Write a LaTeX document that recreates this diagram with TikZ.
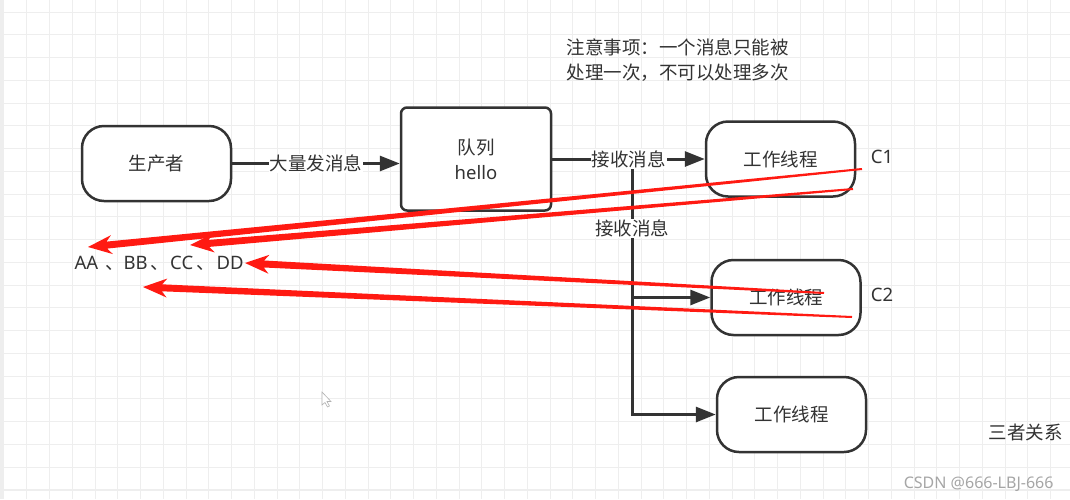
\documentclass[tikz,border=0pt]{standalone}
\usepackage{fontspec}
\setmainfont{Noto Sans CJK SC}
\newfontfamily\latin{Noto Sans}
\usepackage{tikz}
\usetikzlibrary{arrows.meta,calc}
\definecolor{ink}{HTML}{333333}
\definecolor{gridgray}{HTML}{EEEEEE}
\definecolor{penred}{HTML}{FF1A12}

\begin{document}
\begin{tikzpicture}[x=1pt,y=-1pt,
		font=\fontsize{18.5}{25}\selectfont,
		every node/.style={text=ink},
		pill/.style={draw=ink,line width=2.5pt,fill=white,rounded corners=22pt,minimum width=149pt,minimum height=75pt},
		box/.style={draw=ink,line width=2.5pt,fill=white,rounded corners=6pt,minimum width=150pt,minimum height=103pt,align=center},
		conn/.style={draw=ink,line width=3pt,-{Triangle[length=20pt,width=15pt]}},
		lbl/.style={fill=white,inner sep=1pt}]
		\useasboundingbox (0,0) rectangle (1070,499);
		\fill[white] (0,0) rectangle (1070,499);
		% grid paper
		\foreach \i in {1,...,46}
			\draw[gridgray,line width=1pt] ({4+22.75*\i},0)--({4+22.75*\i},499);
		\foreach \j in {0,...,20}
			\draw[gridgray,line width=1pt] (4,{12+22.75*\j})--(1070,{12+22.75*\j});
		\draw[gridgray,line width=2pt] (4,489.5)--(1070,489.5);
		\fill[gridgray] (0,0) rectangle (4,499);
		% shapes
		\node[pill] (prod) at (156.5,163.5) {生产者};
		\node[box] (queue) at (476,159) {队列\\{\latin hello}};
		\node[pill] (w1) at (780.5,159) {工作线程};
		\node[pill] (w2) at (786,297.5) {工作线程};
		\node[pill] (w3) at (791.5,414.5) {工作线程};
		\node[font=\latin\fontsize{18.5}{25}\selectfont] (c1) at (882,157) {C1};
		\node[font=\latin\fontsize{18.5}{25}\selectfont] (c2) at (882,295) {C2};
		\node[anchor=west,align=left] (note) at (563,60.5) {注意事项：一个消息只能被\\处理一次，不可以处理多次};
		\node[anchor=west] (keys) at (71,263) {{\latin AA}\hspace{7pt}、{\latin BB}\hspace{3pt}、\hspace{1pt}{\latin CC}\hspace{3pt}、\hspace{2pt}{\latin DD}};
		\node[anchor=west] (rel) at (985,432) {三者关系};
		\node[anchor=east,text=gray!70,font=\latin\fontsize{16}{18}\selectfont] (mark) at (1057,484) {CSDN @666-LBJ-666};
		% connectors
		\coordinate (fork) at (632,159);
		\draw[conn] (fork) |- (w3.west);
		\draw[conn] (queue.east) -- (fork) |- node[lbl,pos=0.25]{接收消息} (w2.west);
		\draw[conn] (queue.east) -- node[lbl]{接收消息} (w1.west);
		\draw[conn] (prod.east) -- node[lbl]{大量发消息} (prod.east -| queue.west);
		% mouse pointer
		\draw[gray!60,fill=white,line width=0.6pt] (322,392)--(322,405)--(325,402.5)--(327.5,407)--(329.5,406)--(327,401.5)--(331,401.5)--cycle;
		% red pen marks
		\coordinate (r1s) at (862,169); \coordinate (r1e) at (88,247);
		\coordinate (r2s) at (853,189); \coordinate (r2e) at (190,245);
		\coordinate (r3s) at (824,293); \coordinate (r3e) at (245,263);
		\coordinate (r4s) at (852,317); \coordinate (r4e) at (143,287);
		\foreach \s/\e in {r1s/r1e,r2s/r2e,r3s/r3e,r4s/r4e}{
			\coordinate (n) at ($(\e)!19pt!(\s)$);
			\coordinate (m) at ($(\e)!24pt!(\s)$);
			\fill[penred] ($(\s)!1pt!90:(\e)$)--($(n)!3.5pt!90:(\e)$)--($(m)!9.5pt!90:(\e)$)--(\e)
				--($(m)!9.5pt!-90:(\e)$)--($(n)!3.5pt!-90:(\e)$)--($(\s)!1pt!-90:(\e)$)--cycle;
		}
	\end{tikzpicture}
\end{document}
